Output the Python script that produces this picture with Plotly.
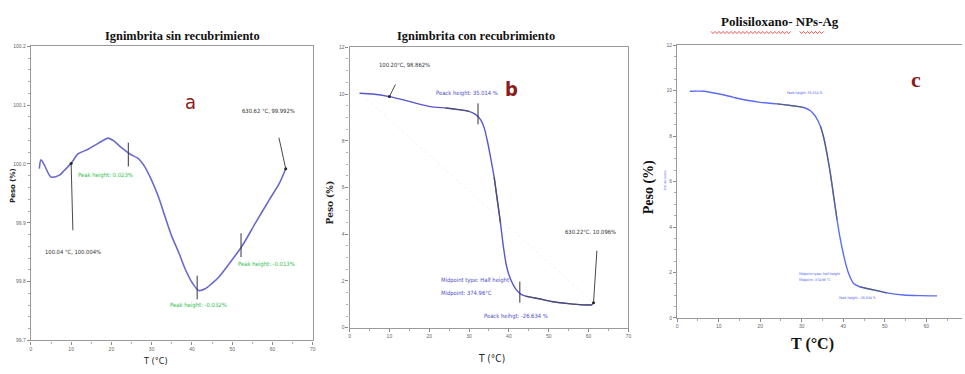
import numpy as np
import plotly.graph_objects as go

# ---------------- data ----------------
# Panel a: Ignimbrita sin recubrimiento
a_T = [2.1, 2.5, 3.3, 5.0, 7.1, 8.3, 10.0, 11.7, 14.2, 16.7, 19.2, 20.4, 22.5, 24.6,
       26.7, 28.3, 30.0, 31.7, 33.3, 35.0, 36.7, 38.3, 40.0, 41.7, 43.3, 45.0, 46.7,
       49.2, 52.5, 55.8, 59.2, 61.7, 63.3]
a_W = [99.992, 100.007, 99.999, 99.978, 99.981, 99.989, 100.001, 100.017, 100.025,
       100.035, 100.044, 100.040, 100.028, 100.017, 100.009, 99.995, 99.972, 99.944,
       99.911, 99.877, 99.850, 99.822, 99.799, 99.785, 99.788, 99.797, 99.808, 99.830,
       99.861, 99.900, 99.939, 99.967, 99.992]

# Panel b: Ignimbrita con recubrimiento
b_T = [2.5, 5.8, 10.0, 14.2, 17.5, 20.8, 24.2, 27.5, 30.0, 31.7, 32.9, 33.8, 34.6,
       35.4, 36.3, 37.1, 37.9, 38.6, 39.4, 40.4, 41.7, 42.9, 44.2, 47.5, 50.8, 55.0,
       58.3, 60.8, 61.25]
b_W = [10.03, 10.00, 9.89, 9.72, 9.57, 9.45, 9.40, 9.33, 9.26, 9.12, 8.90, 8.55, 7.99,
       7.29, 6.44, 5.46, 4.47, 3.49, 2.64, 2.08, 1.66, 1.45, 1.35, 1.24, 1.12, 1.03,
       0.98, 0.98, 1.07]
b_faint_T = [4.2, 61.0]
b_faint_W = [9.8, 1.1]

# Panel c: Polisiloxano- NPs-Ag
c_T = [3.05, 6.4, 9.6, 13.6, 16.8, 20.0, 24.1, 28.1, 30.5, 32.1, 33.3, 34.5, 35.3,
       36.1, 36.9, 37.7, 38.5, 39.3, 40.3, 41.3, 42.5, 44.1, 47.3, 50.5, 54.5, 58.5, 62.6]
c_W = [9.98, 9.98, 9.88, 9.71, 9.58, 9.49, 9.42, 9.33, 9.26, 9.12, 8.87, 8.44, 7.93,
       7.21, 6.35, 5.34, 4.33, 3.46, 2.60, 1.95, 1.51, 1.36, 1.23, 1.10, 1.01, 0.98, 0.97]

# peak marker positions (vertical tick marks)
a_mark_T = [24.2, 41.3, 52.2]
a_mark_W = [100.016, 99.790, 99.862]
b_mark_T = [32.25, 42.75]
b_mark_W = [9.15, 1.52]

# labelled points (arrows)
a_pt_T = [63.3, 10.0]
a_pt_W = [99.992, 100.001]
b_pt_T = [10.0, 61.25]
b_pt_W = [9.89, 1.07]

x_ticks = [0, 10, 20, 30, 40, 50, 60, 70]

# ---------------- figure ----------------
W, H = 965, 374
def px(x):
    return x / W
def py(y):
    return 1 - y / H

fig = go.Figure()

A_COL = "#6a6acb"
B_COL = "#5757cf"
C_COL = "#5a6cf5"
DARK = "#4a4a5a"

fig.add_trace(go.Scatter(x=a_T, y=a_W, mode="lines",
                         line=dict(color=A_COL, width=1.6, shape="spline", smoothing=0.8),
                         xaxis="x", yaxis="y", showlegend=False))
fig.add_trace(go.Scatter(x=a_mark_T, y=a_mark_W, mode="markers",
                         marker=dict(symbol="line-ns", size=17, line=dict(color="#333", width=1)),
                         xaxis="x", yaxis="y", showlegend=False))
fig.add_trace(go.Scatter(x=a_pt_T, y=a_pt_W, mode="markers",
                         marker=dict(size=3, color="#222"), xaxis="x", yaxis="y", showlegend=False))

# b
fig.add_trace(go.Scatter(x=b_faint_T, y=b_faint_W, mode="lines",
                         line=dict(color="#f0f0f0", width=1, dash="dot"),
                         xaxis="x2", yaxis="y2", showlegend=False))
fig.add_trace(go.Scatter(x=b_T, y=b_W, mode="lines",
                         line=dict(color=B_COL, width=1.4, shape="spline", smoothing=0.6),
                         xaxis="x2", yaxis="y2", showlegend=False))
bT = np.array(b_T); bW = np.array(b_W)
for lo, hi in [(24.0, 31.0), (36.3, 37.9), (44.2, 60.8)]:
    m = (bT >= lo) & (bT <= hi)
    fig.add_trace(go.Scatter(x=bT[m], y=bW[m], mode="lines",
                             line=dict(color=DARK, width=1.3, shape="spline", smoothing=0.6),
                             opacity=0.8, xaxis="x2", yaxis="y2", showlegend=False))
fig.add_trace(go.Scatter(x=b_mark_T, y=b_mark_W, mode="markers",
                         marker=dict(symbol="line-ns", size=15, line=dict(color="#333", width=1)),
                         xaxis="x2", yaxis="y2", showlegend=False))
fig.add_trace(go.Scatter(x=b_pt_T, y=b_pt_W, mode="markers",
                         marker=dict(size=3, color="#222"), xaxis="x2", yaxis="y2", showlegend=False))

# c
fig.add_trace(go.Scatter(x=c_T, y=c_W, mode="lines",
                         line=dict(color=C_COL, width=1.4, shape="spline", smoothing=0.6),
                         xaxis="x3", yaxis="y3", showlegend=False))
cT = np.array(c_T); cW = np.array(c_W)
for lo, hi in [(24.0, 30.5), (34.5, 38.5), (44.1, 50.5)]:
    m = (cT >= lo) & (cT <= hi)
    fig.add_trace(go.Scatter(x=cT[m], y=cW[m], mode="lines",
                             line=dict(color="#555", width=1.3, shape="spline", smoothing=0.6),
                             opacity=0.7, xaxis="x3", yaxis="y3", showlegend=False))

tickfont = dict(size=5, color="#666", family="Liberation Sans")
def axis_common(**kw):
    d = dict(showline=True, linecolor="#9a9a9a", linewidth=1.2, mirror=True,
             ticks="outside", ticklen=3, tickcolor="#888", tickfont=tickfont,
             showgrid=False, zeroline=False,
             minor=dict(ticks="outside", ticklen=2, tickcolor="#aaa", nticks=5))
    d.update(kw)
    return d

fig.update_layout(
    width=W, height=H, margin=dict(l=0, r=0, t=0, b=0),
    paper_bgcolor="white", plot_bgcolor="white",
    xaxis=axis_common(domain=[px(30), px(313)], range=[0, 70], tickvals=x_ticks, anchor="y"),
    yaxis=axis_common(domain=[py(343), py(44)], range=[99.7, 100.2], dtick=0.1,
                      tickformat=".1f", anchor="x"),
    xaxis2=axis_common(domain=[px(350), px(630)], range=[0, 70], tickvals=x_ticks, anchor="y2"),
    yaxis2=axis_common(domain=[py(330), py(45)], range=[0, 12], dtick=2, anchor="x2"),
    xaxis3=axis_common(domain=[px(679), 1.0], range=[0, 68.6], tickvals=x_ticks, anchor="y3"),
    yaxis3=axis_common(domain=[py(320), py(43)], range=[0, 12], dtick=2, anchor="x3",
                       mirror=False),
)

ann = []
NARROW = "DejaVu Sans Condensed, Liberation Sans Narrow, sans-serif"
def add(text, x, y, xref, yref, size, color, family=NARROW,
        bold=False, angle=0, xanchor="center", yanchor="middle"):
    t = f"<b>{text}</b>" if bold else text
    ann.append(dict(text=t, x=x, y=y, xref=xref, yref=yref, showarrow=False,
                    font=dict(size=size, color=color, family=family), textangle=angle,
                    xanchor=xanchor, yanchor=yanchor))

def arrow(x, y, xref, yref, ax, ay):
    ann.append(dict(text=" ", x=x, y=y, xref=xref, yref=yref, showarrow=True, arrowhead=0,
                    arrowwidth=0.9, arrowcolor="#333", ax=ax, ay=ay, standoff=0, startstandoff=0))

GREEN = "#2fc24c"
GRAY = "#333"
RED = "#8b1c1c"
serif = "Liberation Serif, Times New Roman, serif"

# titles
add("Ignimbrita sin recubrimiento", px(182), py(34), "paper", "paper", 12.4, "#111", serif, bold=True)
add("Ignimbrita con recubrimiento", px(477), py(34), "paper", "paper", 12.4, "#111", serif, bold=True)
add("Polisiloxano- NPs-Ag", px(782), py(19), "paper", "paper", 13, "#111", serif, bold=True)

# panel a
add("a", 39.6, 100.106, "x", "y", 20, RED, NARROW)
add("630.62 °C, 99.992%", 58.9, 100.090, "x", "y", 5.8, GRAY)
arrow(a_pt_T[0], a_pt_W[0], "x", "y", -9, -41)
add("100.04 °C, 100.004%", 10.4, 99.850, "x", "y", 5.8, GRAY)
arrow(a_pt_T[1], a_pt_W[1], "x", "y", 2, 77)
add("Peak height: 0.023%", 18.6, 99.981, "x", "y", 5.9, GREEN)
add("Peak height: -0.032%", 41.6, 99.760, "x", "y", 5.9, GREEN)
add("Peak height: -0.013%", 58.6, 99.830, "x", "y", 5.9, GREEN)
add("Peso (%)", px(12), py(185), "paper", "paper", 7, "#222", "DejaVu Sans", bold=True, angle=-90)
add("T (°C)", px(155), py(364), "paper", "paper", 9, "#222", NARROW)

# panel b
BLUE = "#4d4dc6"
add("b", 40.75, 10.23, "x2", "y2", 20, RED, NARROW, bold=True)
add("100.20°C, 98.862%", 13.75, 11.24, "x2", "y2", 5.8, GRAY)
arrow(b_pt_T[0], b_pt_W[0], "x2", "y2", 9, -18)
add("Peack height: 35.014 %", 29.5, 10.02, "x2", "y2", 5.8, BLUE)
add("630.22°C. 10.096%", 60.5, 4.08, "x2", "y2", 5.8, GRAY)
arrow(b_pt_T[1], b_pt_W[1], "x2", "y2", 4, -62)
add("Midpoint type: Half height", 22.5, 2.02, "x2", "y2", 5.8, BLUE, xanchor="left")
add("Midpoint: 374.96°C", 22.5, 1.47, "x2", "y2", 5.8, BLUE, xanchor="left")
add("Peack heihgt: -26.634 %", 41.75, 0.5, "x2", "y2", 5.8, BLUE)
add("Peso (%)", px(330), py(203), "paper", "paper", 9, "#222", "DejaVu Serif", bold=True, angle=-90)
add("T (°C)", px(493), py(361), "paper", "paper", 10, "#222", NARROW)

# panel c
CB = "#4a5cf0"
add("c", 57.5, 10.49, "x3", "y3", 22, RED, serif, bold=True)
add("Peak height: 35.014 %", 30.8, 9.88, "x3", "y3", 3.5, CB)
add("Midpoint type: Half height", 28.9, 1.95, "x3", "y3", 3.5, CB, xanchor="left")
add("Midpoint: 374.96 °C", 28.9, 1.65, "x3", "y3", 3.5, CB, xanchor="left")
add("Peak height: -26.634 %", 43.5, 0.87, "x3", "y3", 3.5, CB)
add("First derivative", px(667), py(180), "paper", "paper", 3, CB, angle=-90)
add("Peso (%)", px(651), py(187), "paper", "paper", 14, "#111", serif, bold=True, angle=-90)
add("T (°C)", px(815), py(347), "paper", "paper", 16, "#111", serif, bold=True)

fig.update_layout(annotations=ann)

# spell-check wavy underline under the c title
def wavy(x0, x1, y, amp=1.1, period=4.0):
    xs = np.arange(x0, x1 + 0.01, period / 2)
    pts = []
    for i, xv in enumerate(xs):
        yy = y + (amp if i % 2 else -amp)
        pts.append(f"{px(xv):.5f},{py(yy):.5f}")
    return "M " + " L ".join(pts)

for x0, x1 in [(713, 793), (802, 827)]:
    fig.add_shape(type="path", path=wavy(x0, x1, 30), xref="paper", yref="paper",
                  line=dict(color="#e03030", width=0.8))

fig.write_html("out.html", config={"displayModeBar": False},
               post_script="document.body.style.margin='0';document.body.style.overflow='hidden';")
